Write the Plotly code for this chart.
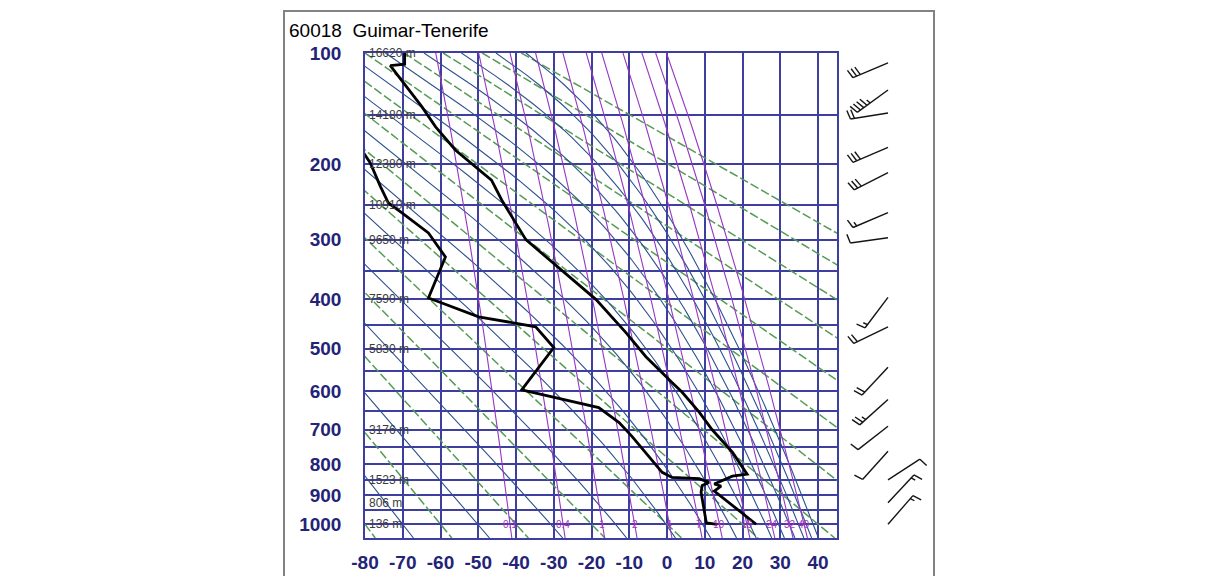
import numpy as np
import plotly.graph_objects as go

KAPPA = 0.286

# ---------------- data ----------------
isobars = list(range(100, 1051, 50))                 # hPa grid lines
pressure_labels = list(range(100, 1001, 100))
temp_ticks = list(range(-80, 41, 10))

# temperature sounding (hPa, degC)
temp_p = [100, 108, 109, 112, 142, 161, 185, 219, 244, 300, 365, 401, 466, 518,
          578, 602, 653, 700, 765, 832, 838, 863, 870, 886, 1000]
temp_c = [-69.5, -69.5, -73.3, -72.5, -65.0, -61.3, -56.0, -46.5, -43.8, -37.4,
          -25.2, -18.8, -10.9, -5.6, 1.3, 4.0, 8.5, 11.9, 17.3, 21.2, 17.3, 12.5,
          14.3, 12.5, 23.6]

# dew point sounding (hPa, degC)
dew_p = [187, 199, 227, 248, 261, 290, 327, 398, 405, 434, 454, 498, 596, 641,
         681, 719, 826, 842, 846, 858, 868, 890, 995, 1000]
dew_c = [-80.5, -78.6, -75.9, -73.8, -70.3, -63.2, -58.7, -63.2, -60.5, -49.9,
         -34.8, -30.0, -38.5, -18.1, -12.7, -9.3, -1.3, 1.3, 8.5, 11.1, 9.3, 9.0,
         10.4, 13.3]

# geopotential heights
height_p = [100, 150, 200, 250, 300, 400, 500, 700, 850, 925, 1000]
height_txt = ["16620 m", "14180 m", "12380 m", "10910 m", "9650 m", "7590 m",
              "5830 m", "3176 m", "1523 m", "806 m", "136 m"]

# mixing ratio lines (g/kg)
mix_ratio = [0.1, 0.4, 1, 2, 4, 7, 10, 16, 24, 32, 40]
mix_txt = ["0.1", "0.4", "1", "2", "4", "7", "10", "16", "24", "32", "40"]

# dry adiabats: temperature at 1000 hPa (degC)
dry_t1000 = list(range(-80, 181, 20))
# pseudo adiabats: equivalent potential temperature (K)
moist_theta_e = [203.15 + 20 * k for k in range(14)]

# winds
wind_p = [107, 128, 148, 182, 210, 261, 297, 397, 454, 542, 620, 691, 762, 850, 925, 1000]
wind_dir = [247, 234, 261, 247, 243, 247, 262, 217, 244, 223, 228, 232, 222, 57, 43, 41]
wind_kt = [30, 45, 20, 30, 30, 15, 10, 15, 20, 20, 25, 10, 10, 10, 15, 15]

# ---------------- helpers ----------------
def yk(p):
    return np.asarray(p, dtype=float) ** KAPPA

P_TOP, P_BOT = 100.0, 1050.0
GRID = "rgb(62,62,160)"
NAVY = "rgb(35,35,120)"

def sat_theta_e(T, p):
    tc = T - 273.15
    es = 6.112 * np.exp(17.67 * tc / (tc + 243.5))
    r = 0.622 * es / (p - es)
    rg = r * 1000.0
    return T * (1000.0 / p) ** (0.2854 * (1 - 0.28 * r)) * np.exp((3.376 / T - 0.00254) * rg * (1 + 0.81 * r))

def moist_line(theta_e, p):
    a = np.log(0.3 * p / 6.112)
    hi = 243.5 * a / (17.67 - a) + 273.15
    lo = np.full_like(p, 150.0)
    for _ in range(60):
        mid = 0.5 * (lo + hi)
        f = sat_theta_e(mid, p)
        lo = np.where(f < theta_e, mid, lo)
        hi = np.where(f >= theta_e, mid, hi)
    return 0.5 * (lo + hi) - 273.15

fig = go.Figure()
pp = np.linspace(P_TOP, P_BOT, 120)

# dry adiabats
for i, t0 in enumerate(dry_t1000):
    th = t0 + 273.15
    T = th * (pp / 1000.0) ** KAPPA - 273.15
    fig.add_trace(go.Scatter(x=T, y=yk(pp), mode="lines", hoverinfo="skip",
                             line=dict(color="rgb(85,155,85)", width=1.5, dash="9px,3px"),
                             showlegend=False))
# pseudo adiabats
for te in moist_theta_e:
    T = moist_line(te, pp)
    fig.add_trace(go.Scatter(x=T, y=yk(pp), mode="lines", hoverinfo="skip",
                             line=dict(color="rgb(45,80,145)", width=1.1),
                             showlegend=False))
# mixing ratio lines
for w in mix_ratio:
    e = w * pp / (622.0 + w)
    a = np.log(e / 6.112)
    Td = 243.5 * a / (17.67 - a)
    fig.add_trace(go.Scatter(x=Td, y=yk(pp), mode="lines", hoverinfo="skip",
                             line=dict(color="rgb(150,55,195)", width=1.1),
                             showlegend=False))

# soundings
fig.add_trace(go.Scatter(x=dew_c, y=yk(dew_p), mode="lines",
                         line=dict(color="black", width=2.8), showlegend=False))
fig.add_trace(go.Scatter(x=temp_c, y=yk(temp_p), mode="lines",
                         line=dict(color="black", width=2.8), showlegend=False))

# ---------------- wind barbs (pixel-like helper axes) ----------------
H = 485.0
def ypix(p):
    return H * (yk(p) - yk(P_TOP)) / (yk(P_BOT) - yk(P_TOP))

bx, by = [], []
L, FL, SP = 38.0, 9.0, 4.0
for p, d, s in zip(wind_p, wind_dir, wind_kt):
    sx, sy = 48.0, float(ypix(p))
    ux, uy = np.sin(np.radians(d)), -np.cos(np.radians(d))
    tx, ty = sx + L * ux, sy + L * uy
    bx += [sx, tx, None]
    by += [sy, ty, None]
    fx, fy = -uy, ux
    full, half = int(s // 10), int((s % 10) >= 5)
    k = 0
    for _ in range(full):
        b0x, b0y = tx - k * SP * ux, ty - k * SP * uy
        bx += [b0x, b0x + FL * fx + 0.25 * FL * ux, None]
        by += [b0y, b0y + FL * fy + 0.25 * FL * uy, None]
        k += 1
    for _ in range(half):
        if k == 0:
            k = 1
        b0x, b0y = tx - k * SP * ux, ty - k * SP * uy
        bx += [b0x, b0x + 0.5 * FL * fx + 0.12 * FL * ux, None]
        by += [b0y, b0y + 0.5 * FL * fy + 0.12 * FL * uy, None]
        k += 1
fig.add_trace(go.Scatter(x=bx, y=by, xaxis="x2", yaxis="y2", mode="lines",
                         line=dict(color="rgb(20,20,20)", width=1.4),
                         hoverinfo="skip", showlegend=False))

# ---------------- layout (page body has an 8 px margin) ----------------
OFF = 8
W, HT = 1205, 568
ML = 365 - OFF
MT = 53 - OFF
MR = W - (935 - OFF)
MB = HT - (538 - OFF)
area_w = W - ML - MR
area_h = HT - MT - MB
def px_x(x):
    return (x - OFF - ML) / area_w
def px_y(y):
    return (HT - MB - (y - OFF)) / area_h

ann = []
for p, t in zip(height_p, height_txt):
    ann.append(dict(x=-79.6, y=float(yk(p)), xref="x", yref="y", text=t, showarrow=False,
                    xanchor="left", yanchor="middle",
                    font=dict(family="Liberation Sans, Arial", size=12, color="rgb(60,60,60)")))
for w, t in zip(mix_ratio, mix_txt):
    e = w * 1000.0 / (622.0 + w)
    a = np.log(e / 6.112)
    td = 243.5 * a / (17.67 - a)
    ann.append(dict(x=float(td), y=float(yk(1000)), xref="x", yref="y", text=t, showarrow=False,
                    xanchor="center", yanchor="middle",
                    font=dict(family="Liberation Sans, Arial", size=10, color="rgb(170,50,190)")))
ann.append(dict(x=px_x(287), y=px_y(31), xref="paper", yref="paper",
                text="60018\u00a0 Guimar-Tenerife", showarrow=False, xanchor="left", yanchor="middle",
                font=dict(family="Liberation Sans, Arial", size=19, color="black")))

tick_font = dict(family="Liberation Sans, Arial", size=19, color=NAVY, weight="bold")

fig.update_layout(
    width=W, height=HT, autosize=False,
    margin=dict(l=ML, r=MR, t=MT, b=MB, pad=0, autoexpand=False),
    paper_bgcolor="white", plot_bgcolor="white",
    showlegend=False,
    xaxis=dict(domain=[0, px_x(837)], range=[-80, 45], tickmode="array",
               tickvals=temp_ticks, ticktext=[str(t) for t in temp_ticks],
               showgrid=True, gridcolor=GRID, gridwidth=1.5, zeroline=False,
               showline=True, linecolor=GRID, linewidth=1.5, mirror=True,
               ticks="", ticklabelstandoff=6, tickfont=tick_font, automargin=False),
    yaxis=dict(range=[float(yk(P_BOT)), float(yk(P_TOP))], tickmode="array",
               tickvals=[float(v) for v in yk(isobars)],
               ticktext=[str(p) if p in pressure_labels else "" for p in isobars],
               showgrid=True, gridcolor=GRID, gridwidth=1.5, zeroline=False,
               showline=True, linecolor=GRID, linewidth=1.5, mirror=True,
               ticks="", ticklabelstandoff=18, tickfont=tick_font, automargin=False),
    xaxis2=dict(domain=[px_x(840), 1.0], range=[0, 95], visible=False, anchor="y2"),
    yaxis2=dict(domain=[0, 1], range=[H, 0], visible=False, anchor="x2"),
    annotations=ann,
    shapes=[dict(type="rect", xref="paper", yref="paper",
                 x0=px_x(284), x1=px_x(934), y0=px_y(620), y1=px_y(11),
                 line=dict(color="rgb(130,130,130)", width=2), layer="above")],
)

fig.write_html("out.html")
